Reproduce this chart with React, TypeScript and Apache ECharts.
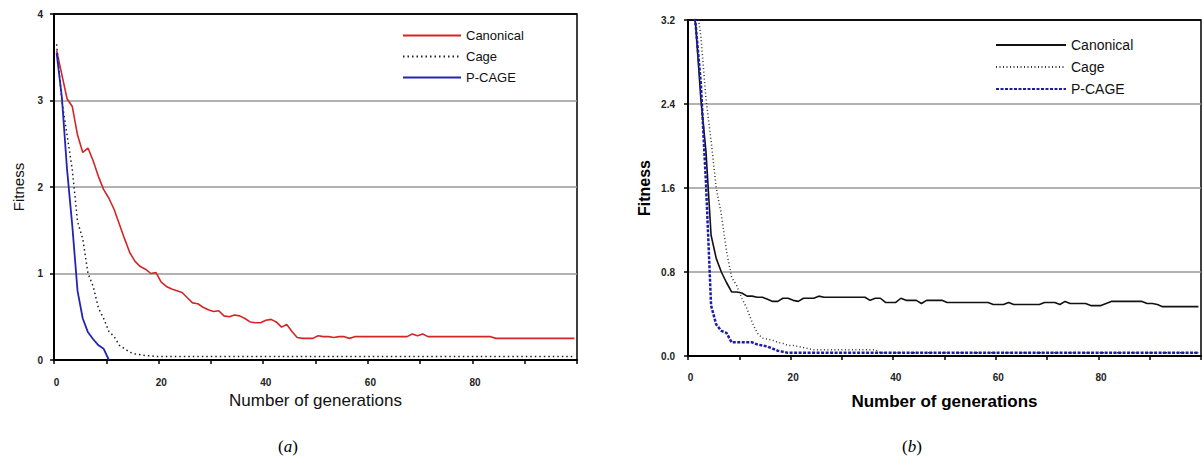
import React, { useEffect, useRef } from "react";
import * as echarts from "echarts";

// Generations 0..99 (category axis)
const generations: string[] = Array.from({ length: 100 }, (_, i) => String(i));

// ---- Chart (a) ----
const canonicalA: number[] = [
  3.58, 3.3, 3.02, 2.93, 2.6, 2.4, 2.45, 2.3, 2.12, 1.97,
  1.87, 1.74, 1.57, 1.4, 1.24, 1.14, 1.08, 1.05, 1.0, 1.01,
  0.9, 0.85, 0.82, 0.8, 0.78, 0.72, 0.66, 0.65, 0.61, 0.58,
  0.56, 0.57, 0.51, 0.5, 0.52, 0.51, 0.48, 0.44, 0.43, 0.43,
  0.46, 0.47, 0.44, 0.38, 0.41, 0.33, 0.26, 0.25, 0.25, 0.25,
  0.28, 0.27, 0.27, 0.26, 0.27, 0.27, 0.25, 0.27, 0.27, 0.27,
  0.27, 0.27, 0.27, 0.27, 0.27, 0.27, 0.27, 0.27, 0.3, 0.28,
  0.3, 0.27, 0.27, 0.27, 0.27, 0.27, 0.27, 0.27, 0.27, 0.27,
  0.27, 0.27, 0.27, 0.27, 0.25, 0.25, 0.25, 0.25, 0.25, 0.25,
  0.25, 0.25, 0.25, 0.25, 0.25, 0.25, 0.25, 0.25, 0.25, 0.25,
];
const cageA: number[] = [
  3.65, 3.0, 2.6, 2.2, 1.6, 1.4, 1.0, 0.85, 0.6, 0.48,
  0.33, 0.27, 0.17, 0.13, 0.09, 0.07, 0.06, 0.05, 0.05, 0.04,
  0.04, 0.04, 0.04, 0.04, 0.04, 0.04, 0.04, 0.04, 0.04, 0.04,
  0.04, 0.04, 0.04, 0.04, 0.04, 0.04, 0.04, 0.04, 0.04, 0.04,
  0.04, 0.04, 0.04, 0.04, 0.04, 0.04, 0.04, 0.04, 0.04, 0.04,
  0.04, 0.04, 0.04, 0.04, 0.04, 0.04, 0.04, 0.04, 0.04, 0.04,
  0.04, 0.04, 0.04, 0.04, 0.04, 0.04, 0.04, 0.04, 0.04, 0.04,
  0.04, 0.04, 0.04, 0.04, 0.04, 0.04, 0.04, 0.04, 0.04, 0.04,
  0.04, 0.04, 0.04, 0.04, 0.04, 0.04, 0.04, 0.04, 0.04, 0.04,
  0.04, 0.04, 0.04, 0.04, 0.04, 0.04, 0.04, 0.04, 0.04, 0.04,
];
const pcageA: number[] = [3.55, 3.04, 2.2, 1.55, 0.8, 0.48, 0.32, 0.24, 0.17, 0.13, 0.0];

// ---- Chart (b) ----
const canonicalB: number[] = [
  3.5, 3.15, 2.45, 1.95, 1.15, 0.93, 0.8, 0.7, 0.61, 0.61,
  0.6, 0.57, 0.57, 0.56, 0.56, 0.54, 0.52, 0.52, 0.55, 0.55,
  0.53, 0.52, 0.55, 0.55, 0.55, 0.57, 0.56, 0.56, 0.56, 0.56,
  0.56, 0.56, 0.56, 0.56, 0.56, 0.53, 0.55, 0.55, 0.51, 0.51,
  0.51, 0.55, 0.53, 0.53, 0.53, 0.5, 0.53, 0.53, 0.53, 0.53,
  0.51, 0.51, 0.51, 0.51, 0.51, 0.51, 0.51, 0.51, 0.51, 0.49,
  0.49, 0.49, 0.51, 0.49, 0.49, 0.49, 0.49, 0.49, 0.49, 0.51,
  0.51, 0.51, 0.49, 0.52, 0.5, 0.5, 0.5, 0.5, 0.48, 0.48,
  0.48, 0.5, 0.52, 0.52, 0.52, 0.52, 0.52, 0.52, 0.52, 0.5,
  0.5, 0.49, 0.47, 0.47, 0.47, 0.47, 0.47, 0.47, 0.47, 0.47,
];
const cageB: number[] = [
  3.7, 3.4, 3.05, 2.45, 2.05, 1.6, 1.35, 1.0, 0.75, 0.67,
  0.55, 0.45, 0.32, 0.22, 0.17, 0.16, 0.15, 0.13, 0.12, 0.1,
  0.1, 0.09, 0.08, 0.07, 0.06, 0.06, 0.06, 0.06, 0.06, 0.06,
  0.06, 0.06, 0.06, 0.06, 0.06, 0.06, 0.06, 0.03, 0.03, 0.03,
  0.03, 0.03, 0.03, 0.03, 0.03, 0.03, 0.03, 0.03, 0.03, 0.03,
  0.03, 0.03, 0.03, 0.03, 0.03, 0.03, 0.03, 0.03, 0.03, 0.03,
  0.03, 0.03, 0.03, 0.03, 0.03, 0.03, 0.03, 0.03, 0.03, 0.03,
  0.03, 0.03, 0.03, 0.03, 0.03, 0.03, 0.03, 0.03, 0.03, 0.03,
  0.03, 0.03, 0.03, 0.03, 0.03, 0.03, 0.03, 0.03, 0.03, 0.03,
  0.03, 0.03, 0.03, 0.03, 0.03, 0.03, 0.03, 0.03, 0.03, 0.03,
];
const pcageB: number[] = [
  3.6, 3.15, 2.6, 1.65, 0.48, 0.3, 0.24, 0.22, 0.13, 0.13,
  0.13, 0.13, 0.13, 0.11, 0.1, 0.09, 0.07, 0.05, 0.04, 0.03,
  0.03, 0.03, 0.03, 0.03, 0.03, 0.03, 0.03, 0.03, 0.03, 0.03,
  0.03, 0.03, 0.03, 0.03, 0.03, 0.03, 0.03, 0.03, 0.03, 0.03,
  0.03, 0.03, 0.03, 0.03, 0.03, 0.03, 0.03, 0.03, 0.03, 0.03,
  0.03, 0.03, 0.03, 0.03, 0.03, 0.03, 0.03, 0.03, 0.03, 0.03,
  0.03, 0.03, 0.03, 0.03, 0.03, 0.03, 0.03, 0.03, 0.03, 0.03,
  0.03, 0.03, 0.03, 0.03, 0.03, 0.03, 0.03, 0.03, 0.03, 0.03,
  0.03, 0.03, 0.03, 0.03, 0.03, 0.03, 0.03, 0.03, 0.03, 0.03,
  0.03, 0.03, 0.03, 0.03, 0.03, 0.03, 0.03, 0.03, 0.03, 0.03,
];

const seriesNames = ["Canonical", "Cage", "P-CAGE"];
const captions = ["a", "b"];

const FONT = "Liberation Sans, Arial, sans-serif";

export default function App() {
  const ref = useRef<HTMLDivElement>(null);

  useEffect(() => {
    if (!ref.current) return;
    const chart = echarts.init(ref.current, undefined, { renderer: "svg" });

    const xAxisBase = (gridIndex: number, margin: number, nameGap: number, nameStyle: any) => ({
      type: "category",
      gridIndex,
      data: generations,
      boundaryGap: true,
      axisLine: { show: true, lineStyle: { color: "#000", width: 2 } },
      axisTick: { show: true, interval: 9, length: 4, lineStyle: { color: "#000", width: 1.5 } },
      axisLabel: {
        interval: 19,
        margin,
        fontSize: 10,
        fontWeight: "bold",
        color: "#222",
        fontFamily: FONT,
      },
      splitLine: { show: false },
      name: "Number of generations",
      nameLocation: "middle",
      nameGap,
      nameTextStyle: nameStyle,
    });

    const yAxisBase = (
      gridIndex: number,
      max: number,
      interval: number,
      margin: number,
      nameGap: number,
      nameStyle: any,
      digits: number
    ) => ({
      type: "value",
      gridIndex,
      min: 0,
      max,
      interval,
      axisLine: { show: true, lineStyle: { color: "#000", width: 2 } },
      axisTick: { show: true, length: 4, lineStyle: { color: "#000", width: 1.5 } },
      axisLabel: {
        margin,
        fontSize: 10,
        fontWeight: "bold",
        color: "#222",
        fontFamily: FONT,
        formatter: (v: number) => v.toFixed(digits),
      },
      splitLine: {
        show: true,
        lineStyle: { color: ["#999", "#999", "#999", "#999", "#000"], width: 1.5 },
      },
      name: "Fitness",
      nameLocation: "middle",
      nameRotate: 90,
      nameGap,
      nameTextStyle: nameStyle,
    });

    const option: any = {
      animation: false,
      backgroundColor: "#fff",
      grid: [
        { left: 54, top: 14, right: 626, bottom: 101, show: true, borderColor: "#000", borderWidth: 1.5, backgroundColor: "transparent" },
        { left: 688, top: 20, right: 2, bottom: 105, show: true, borderColor: "#000", borderWidth: 1.5, backgroundColor: "transparent" },
      ],
      xAxis: [
        xAxisBase(0, 17, 30, { fontSize: 17, color: "#111", fontFamily: FONT }),
        xAxisBase(1, 16, 37, { fontSize: 17, fontWeight: "bold", color: "#000", fontFamily: FONT }),
      ],
      yAxis: [
        yAxisBase(0, 4, 1, 11, 28, { fontSize: 15, color: "#111", fontFamily: FONT }, 0),
        yAxisBase(1, 3.2, 0.8, 13, 36, { fontSize: 16, fontWeight: "bold", color: "#000", fontFamily: FONT }, 1),
      ],
      legend: [
        {
          left: 397,
          top: 24,
          orient: "vertical",
          itemWidth: 58,
          itemHeight: 14,
          itemGap: 8,
          data: seriesNames.map((n) => "a:" + n),
          formatter: (n: string) => n.slice(2),
          itemStyle: { opacity: 0 },
          textStyle: { fontSize: 13, color: "#111", fontFamily: FONT },
          selectedMode: false,
        },
        {
          left: 990,
          top: 33,
          orient: "vertical",
          itemWidth: 70,
          itemHeight: 14,
          itemGap: 8,
          data: seriesNames.map((n) => "b:" + n),
          formatter: (n: string) => n.slice(2),
          itemStyle: { opacity: 0 },
          textStyle: { fontSize: 14, color: "#111", fontFamily: FONT },
          selectedMode: false,
        },
      ],
      series: [
        {
          name: "a:Canonical", type: "line", xAxisIndex: 0, yAxisIndex: 0, data: canonicalA,
          symbol: "none", showSymbol: false, color: "#d42626",
          lineStyle: { color: "#d42626", width: 1.6 },
        },
        {
          name: "a:Cage", type: "line", xAxisIndex: 0, yAxisIndex: 0, data: cageA,
          symbol: "none", showSymbol: false, color: "#222",
          lineStyle: { color: "#222", width: 1.5, type: [1.5, 3] },
        },
        {
          name: "a:P-CAGE", type: "line", xAxisIndex: 0, yAxisIndex: 0, data: pcageA,
          symbol: "none", showSymbol: false, color: "#2424b4",
          lineStyle: { color: "#2424b4", width: 1.8 },
        },
        {
          name: "b:Canonical", type: "line", xAxisIndex: 1, yAxisIndex: 1, data: canonicalB,
          symbol: "none", showSymbol: false, color: "#111",
          lineStyle: { color: "#111", width: 1.6 },
        },
        {
          name: "b:Cage", type: "line", xAxisIndex: 1, yAxisIndex: 1, data: cageB,
          symbol: "none", showSymbol: false, color: "#333",
          lineStyle: { color: "#333", width: 1.5, type: [1, 2.5] },
        },
        {
          name: "b:P-CAGE", type: "line", xAxisIndex: 1, yAxisIndex: 1, data: pcageB,
          symbol: "none", showSymbol: false, color: "#1c1caa",
          lineStyle: { color: "#1c1caa", width: 2.5, type: [3, 1.5] },
        },
      ],
      graphic: [
        {
          type: "text",
          x: 288,
          y: 446,
          style: {
            text: "({i|" + captions[0] + "})",
            rich: { i: { fontStyle: "italic", fontSize: 17, fontFamily: "Liberation Serif, serif" } },
            fontSize: 17,
            fontFamily: "Liberation Serif, serif",
            fill: "#000",
            align: "center",
            verticalAlign: "middle",
          },
        },
        {
          type: "text",
          x: 912,
          y: 446,
          style: {
            text: "({i|" + captions[1] + "})",
            rich: { i: { fontStyle: "italic", fontSize: 17, fontFamily: "Liberation Serif, serif" } },
            fontSize: 17,
            fontFamily: "Liberation Serif, serif",
            fill: "#000",
            align: "center",
            verticalAlign: "middle",
          },
        },
      ],
    };

    chart.setOption(option);
    return () => chart.dispose();
  }, []);

  return (
    <div
      ref={ref}
      style={{ position: "fixed", left: 0, top: 0, width: 1203, height: 461, background: "#fff" }}
    />
  );
}
